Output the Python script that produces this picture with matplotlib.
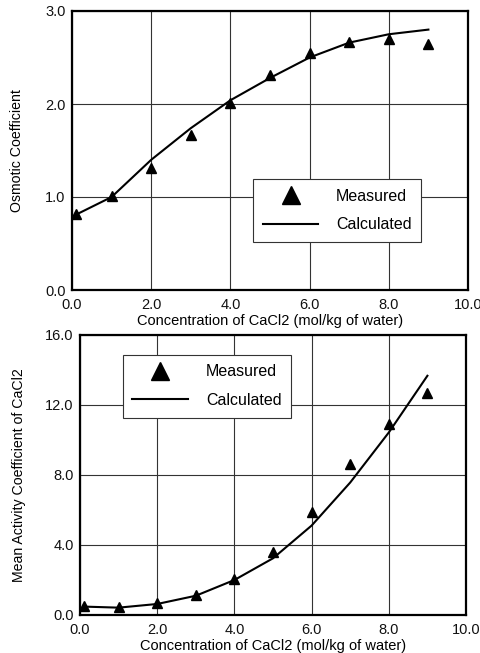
import matplotlib
matplotlib.use("Agg")
import matplotlib.pyplot as plt

plt.rcParams['font.family'] = ['Liberation Sans', 'DejaVu Sans']

# Molality of CaCl2 (mol/kg of water)
conc = [0.1, 1.0, 2.0, 3.0, 4.0, 5.0, 6.0, 7.0, 8.0, 9.0]

# Osmotic coefficient
osm_measured = [0.82, 1.01, 1.31, 1.67, 2.01, 2.31, 2.55, 2.67, 2.70, 2.64]
osm_calculated = [0.81, 1.00, 1.40, 1.74, 2.04, 2.28, 2.50, 2.66, 2.75, 2.80]

# Mean activity coefficient
gam_measured = [0.51, 0.44, 0.67, 1.13, 2.04, 3.58, 5.87, 8.62, 10.90, 12.68]
gam_calculated = [0.48, 0.42, 0.63, 1.10, 2.00, 3.24, 5.11, 7.57, 10.43, 13.67]

x_ticks = [0, 2, 4, 6, 8, 10]
osm_ticks = [0, 1, 2, 3]
gam_ticks = [0, 4, 8, 12, 16]

W, H = 481, 653
fig = plt.figure(figsize=(W / 100, H / 100), dpi=100)


def px_axes(left, top, right, bottom):
    return fig.add_axes([left / W, 1 - bottom / H, (right - left) / W, (bottom - top) / H])


def style(ax, yticks, ylabel, xlabel, ylabelpad, xlabelpad):
    ax.set_xlim(0, 10)
    ax.set_ylim(yticks[0], yticks[-1])
    ax.set_xticks(x_ticks)
    ax.set_xticklabels([f"{t:.1f}" for t in x_ticks])
    ax.set_yticks(yticks)
    ax.set_yticklabels([f"{t:.1f}" for t in yticks])
    ax.tick_params(length=0, labelsize=10.5, colors='#111111')
    ax.tick_params(axis='x', pad=6)
    ax.tick_params(axis='y', pad=4.5)
    ax.grid(True, color='#333333', linewidth=0.8)
    ax.set_axisbelow(True)
    for s in ax.spines.values():
        s.set_linewidth(1.6)
        s.set_color('black')
    ax.set_xlabel(xlabel, fontsize=10.5, labelpad=xlabelpad)
    ax.set_ylabel(ylabel, fontsize=10.2, labelpad=ylabelpad)


def legend(ax, x0, y1):
    lg = ax.legend(loc='upper left', bbox_to_anchor=(x0, y1), borderaxespad=0,
                   fontsize=11.5, markerscale=1.9, handlelength=3.5, handletextpad=1.1,
                   borderpad=0.6, labelspacing=0.85, fancybox=False, framealpha=1,
                   edgecolor='#333333')
    lg.get_frame().set_linewidth(0.8)


xlab = "Concentration of CaCl2 (mol/kg of water)"

ax1 = px_axes(72, 11, 468, 290)
ax1.plot(conc, osm_measured, linestyle='none', marker='^', color='black', markersize=7, label='Measured', zorder=3)
ax1.plot(conc, osm_calculated, color='black', linewidth=1.5, label='Calculated', zorder=3)
style(ax1, osm_ticks, "Osmotic Coefficient", xlab, ylabelpad=15, xlabelpad=1)
legend(ax1, 0.457, 0.398)

ax2 = px_axes(80, 335, 466, 615)
ax2.plot(conc, gam_measured, linestyle='none', marker='^', color='black', markersize=7, label='Measured', zorder=3)
ax2.plot(conc, gam_calculated, color='black', linewidth=1.5, label='Calculated', zorder=3)
style(ax2, gam_ticks, "Mean Activity Coefficient of CaCl2", xlab, ylabelpad=14, xlabelpad=1.5)
legend(ax2, 0.111, 0.929)

fig.savefig("out.png", dpi=100)
